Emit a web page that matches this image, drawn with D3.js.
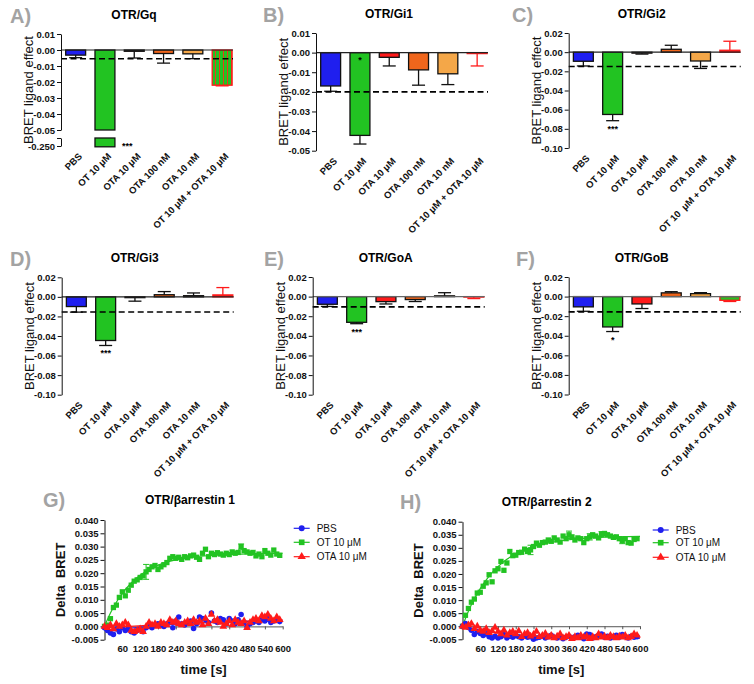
<!DOCTYPE html>
<html><head><meta charset="utf-8">
<script src="https://cdn.jsdelivr.net/npm/d3@7"></script>
<style>body{margin:0;background:#fff}svg{display:block}text{font-family:Arial,"Liberation Sans",sans-serif}</style>
</head><body><svg id="c" width="754" height="684"></svg>
<script>
// ---------------- DATA ----------------
const categories = ["PBS","OT 10 \u03bcM","OTA 10 \u03bcM","OTA 100 nM","OTA 10 nM","OT 10 \u03bcM + OTA 10 \u03bcM"];

const gqMean  = [-0.0032,-0.2505,-0.0008,-0.0022,-0.0024,-0.0220];
const gqSem   = [ 0.0016, 0,      0.0042, 0.0060, 0.0030, 0.0004];
const gqDash  = -0.0055;
const gqSig   = ["","***","","","",""];

const gi1Mean = [-0.0170,-0.0422,-0.0024,-0.0088,-0.0108,-0.0005];
const gi1Sem  = [ 0.0027, 0.0044, 0.0044, 0.0078, 0.0055, 0.0063];
const gi1Dash = -0.0200;
const gi1Sig  = ["","*","","","",""];

const gi2Mean = [-0.0095,-0.0650,-0.0010, 0.0030,-0.0092, 0.0020];
const gi2Sem  = [ 0.0049, 0.0065, 0.0010, 0.0042, 0.0078, 0.0094];
const gi2Dash = -0.0150;
const gi2Sig  = ["","***","","","",""];

const gi3Mean = [-0.0099,-0.0446,-0.0008, 0.0022, 0.0012, 0.0020];
const gi3Sem  = [ 0.0057, 0.0051, 0.0036, 0.0032, 0.0028, 0.0075];
const gi3Dash = -0.0155;
const gi3Sig  = ["","***","","","",""];

const goAMean = [-0.0078,-0.0262,-0.0051,-0.0030, 0.0008,-0.0005];
const goASem  = [ 0.0022, 0.0014, 0.0024, 0.0020, 0.0032, 0.0015];
const goADash = -0.0105;
const goASig  = ["","***","","","",""];

const goBMean = [-0.0105,-0.0310,-0.0075, 0.0038, 0.0030,-0.0038];
const goBSem  = [ 0.0045, 0.0047, 0.0047, 0.0012, 0.0010, 0.0012];
const goBDash = -0.0156;
const goBSig  = ["","*","","","",""];

const ticksGq  = [0.01,0,-0.01,-0.02,-0.03,-0.04,-0.05];
const ticksGi1 = [0.01,0,-0.01,-0.02,-0.03,-0.04,-0.05];
const ticksWide = [0.02,0,-0.02,-0.04,-0.06,-0.08,-0.10];

const timeS = [0,10,20,30,40,50,60,70,80,90,100,110,120,130,140,150,160,170,180,190,
  200,210,220,230,240,250,260,270,280,290,300,310,320,330,340,350,360,370,380,390,
  400,410,420,430,440,450,460,470,480,490,500,510,520,530,540,550,560,570,580,590];
const timeXTicks = [60,120,180,240,300,360,420,480,540,600];
const timeYTicks = [-0.005,0,0.005,0.010,0.015,0.020,0.025,0.030,0.035,0.040];
const seriesNames = ["PBS","OT 10 \u03bcM","OTA 10 \u03bcM"];

// G: beta-arrestin 1
const g1PBS = [-0.0005,-0.0015,-0.0025,-0.0030,-0.0010,-0.0020,-0.0005,-0.0015,-0.0010,-0.0020,
  -0.0025,-0.0015,-0.0010,-0.0020,-0.0005,0.0000,-0.0005,0.0005,0.0010,0.0005,
  0.0000,0.0010,0.0015,-0.0005,0.0020,0.0035,0.0010,0.0005,0.0015,0.0020,
  -0.0008,0.0010,0.0035,0.0030,0.0025,0.0015,0.0050,0.0020,0.0015,0.0030,
  0.0025,0.0010,0.0030,0.0020,0.0010,0.0025,0.0045,0.0015,0.0000,0.0010,
  0.0015,0.0020,0.0015,0.0025,0.0020,0.0030,0.0015,0.0020,0.0025,0.0018];
const g1OT = [0.0000,0.0005,0.0029,0.0071,0.0080,0.0109,0.0130,0.0115,0.0136,0.0155,
  0.0170,0.0175,0.0184,0.0190,0.0205,0.0214,0.0224,0.0229,0.0214,0.0224,
  0.0232,0.0240,0.0256,0.0262,0.0256,0.0260,0.0252,0.0262,0.0258,0.0265,
  0.0268,0.0260,0.0252,0.0275,0.0290,0.0262,0.0275,0.0270,0.0277,0.0272,
  0.0268,0.0275,0.0270,0.0280,0.0275,0.0278,0.0300,0.0285,0.0280,0.0275,
  0.0278,0.0265,0.0272,0.0262,0.0285,0.0275,0.0268,0.0287,0.0272,0.0267];
const g1OTA = [0.0000,-0.0005,0.0005,-0.0010,0.0010,0.0000,0.0005,0.0015,0.0005,-0.0015,
  -0.0020,-0.0015,-0.0010,-0.0020,0.0000,0.0015,0.0005,0.0010,0.0000,0.0015,
  0.0010,0.0005,0.0025,0.0015,0.0020,0.0010,0.0005,0.0015,0.0020,0.0010,
  0.0025,0.0015,0.0020,0.0005,0.0030,0.0010,0.0045,0.0020,0.0025,0.0015,
  0.0000,0.0010,0.0020,0.0005,0.0025,0.0015,0.0010,0.0020,-0.0005,0.0015,
  0.0025,0.0030,0.0020,0.0040,0.0035,0.0045,0.0030,0.0020,0.0035,0.0025];
const g1FitPBS = [[0,-0.0015],[100,-0.0005],[200,0.0005],[300,0.0012],[400,0.0017],[500,0.0019],[600,0.0020]];
const g1FitOT  = [[0,0],[20,0.0050],[40,0.0091],[60,0.0124],[90,0.0163],[120,0.0192],[150,0.0214],[180,0.0230],[240,0.0250],[300,0.0261],[360,0.0267],[420,0.0271],[480,0.0273],[540,0.0274],[600,0.0275]];
const g1FitOTA = [[0,-0.0005],[100,0.0001],[200,0.0008],[300,0.0013],[400,0.0017],[500,0.0021],[600,0.0025]];
const g1ErrT = [140,460];
const g1ErrV = [0.0028,0.0010];

// H: beta-arrestin 2
const h2PBS = [0.0000,0.0010,-0.0005,-0.0015,-0.0032,-0.0020,-0.0028,-0.0035,-0.0030,-0.0040,
  -0.0045,-0.0038,-0.0045,-0.0040,-0.0032,-0.0045,-0.0038,-0.0042,-0.0035,-0.0040,
  -0.0045,-0.0038,-0.0042,-0.0040,-0.0050,-0.0045,-0.0042,-0.0038,-0.0045,-0.0040,
  -0.0035,-0.0042,-0.0045,-0.0040,-0.0048,-0.0042,-0.0038,-0.0045,-0.0040,-0.0035,
  -0.0042,-0.0048,-0.0030,-0.0032,-0.0045,-0.0040,-0.0035,-0.0030,-0.0042,-0.0038,
  -0.0045,-0.0040,-0.0035,-0.0042,-0.0032,-0.0040,-0.0045,-0.0038,-0.0042,-0.0040];
const h2OT = [0.0000,0.0042,0.0068,0.0092,0.0104,0.0127,0.0130,0.0153,0.0166,0.0197,
  0.0170,0.0212,0.0220,0.0248,0.0214,0.0242,0.0286,0.0270,0.0272,0.0282,
  0.0283,0.0295,0.0286,0.0292,0.0305,0.0318,0.0310,0.0320,0.0322,0.0330,
  0.0325,0.0338,0.0330,0.0322,0.0345,0.0335,0.0350,0.0342,0.0330,0.0338,
  0.0335,0.0320,0.0335,0.0342,0.0350,0.0345,0.0338,0.0352,0.0355,0.0350,
  0.0345,0.0340,0.0342,0.0335,0.0328,0.0335,0.0320,0.0318,0.0332,0.0335];
const h2OTA = [0.0000,-0.0005,0.0005,0.0010,-0.0010,0.0000,-0.0015,-0.0020,-0.0010,-0.0025,
  -0.0018,-0.0005,-0.0020,-0.0030,-0.0015,-0.0035,-0.0025,-0.0020,-0.0030,-0.0018,
  -0.0040,-0.0030,-0.0025,-0.0038,-0.0032,-0.0020,-0.0040,-0.0035,-0.0028,-0.0042,
  -0.0035,-0.0045,-0.0038,-0.0030,-0.0045,-0.0040,-0.0035,-0.0048,-0.0040,-0.0045,
  -0.0035,-0.0042,-0.0038,-0.0048,-0.0040,-0.0045,-0.0030,-0.0042,-0.0038,-0.0045,
  -0.0035,-0.0040,-0.0045,-0.0038,-0.0042,-0.0035,-0.0045,-0.0040,-0.0030,-0.0035];
const h2FitPBS = [[0,0],[30,-0.0018],[60,-0.0030],[90,-0.0037],[120,-0.0041],[180,-0.0044],[240,-0.0045],[600,-0.0045]];
const h2FitOT  = [[0,0],[20,0.0057],[40,0.0105],[60,0.0144],[90,0.0192],[120,0.0228],[150,0.0256],[180,0.0277],[240,0.0305],[300,0.0321],[360,0.0331],[420,0.0337],[480,0.0341],[600,0.0344]];
const h2FitOTA = [[0,0],[60,-0.0015],[120,-0.0026],[180,-0.0033],[240,-0.0038],[300,-0.0041],[400,-0.0044],[500,-0.0045],[600,-0.0046]];
const h2ErrT = [230,360,430,470,540];
const h2ErrV = [0.0018,0.0014,0.0012,0.0010,0.0012];

// ---------------- DRAWING ----------------
const svg = d3.select("#c");
const COL = {blue:"#1f1fef", green:"#22c322", red:"#ff1a1a", dko:"#f0661c", lto:"#f4a748", letter:"#a3a3a3"};
const barFills = [COL.blue, COL.green, COL.red, COL.dko, COL.lto];
const fmt = f => d => d3.format(f)(d).replace("\u2212","-");

const defs = svg.append("defs");
const pat = defs.append("pattern").attr("id","stripe").attr("patternUnits","userSpaceOnUse").attr("width",4).attr("height",4);
pat.append("rect").attr("width",4).attr("height",4).attr("fill",COL.green);
pat.append("rect").attr("x",3).attr("width",1).attr("height",4).attr("fill","#e83a1e");

function styleAxis(ga){
  ga.attr("font-size","9.5px").attr("font-weight","bold").attr("font-family",null);
  ga.selectAll("path,line").attr("stroke","#111");
  ga.selectAll("text").attr("fill","#111");
}

function barPanel(p){
  const g = svg.append("g");
  const step = 29.3;
  const x = d3.scaleBand().domain(categories).range([p.ax, p.ax + 6*step]).paddingInner(0.32).paddingOuter(0.16);
  const y = d3.scaleLinear().domain(p.domain).range([p.yb, p.yt]);
  const yLow = p.broken ? d3.scaleLinear().domain(p.broken.domain).range(p.broken.range) : null;
  const axBottom = p.broken ? p.broken.range[0] : p.yb;
  const xEnd = p.ax + 172;
  const bw = x.bandwidth();

  p.mean.forEach((v,i)=>{
    const bx = x(categories[i]), cx = bx + bw/2;
    const fill = i<5 ? barFills[i] : p.lastFill;
    const stroke = i<5 ? "#111" : COL.red;
    if (yLow && v < p.domain[0]) {
      g.append("rect").attr("x",bx).attr("y",y(0)).attr("width",bw).attr("height",y(p.domain[0])-y(0))
        .attr("fill",fill).attr("stroke",stroke).attr("stroke-width",1.3);
      const top = yLow(p.broken.domain[1]);
      g.append("rect").attr("x",bx).attr("y",top).attr("width",bw).attr("height",yLow(v)-top)
        .attr("fill",fill).attr("stroke",stroke).attr("stroke-width",1.3);
      if (p.sig[i]) g.append("text").attr("x",bx+bw+7).attr("y",yLow(v)+2).attr("font-size","9px").attr("font-weight","bold").text(p.sig[i]);
      return;
    }
    const y0 = y(0), y1 = y(v);
    g.append("rect").attr("x",bx).attr("y",Math.min(y0,y1)).attr("width",bw).attr("height",Math.abs(y1-y0))
      .attr("fill",fill).attr("stroke",stroke).attr("stroke-width",1.3);
    const s = p.sem[i];
    const ye = y(v + (v<0 ? -s : s));
    if (s>0){
      g.append("line").attr("x1",cx).attr("x2",cx).attr("y1",y1).attr("y2",ye).attr("stroke",stroke).attr("stroke-width",1.3);
      g.append("line").attr("x1",cx-6.5).attr("x2",cx+6.5).attr("y1",ye).attr("y2",ye).attr("stroke",stroke).attr("stroke-width",1.3);
    }
    if (p.sig[i]) {
      const ty = p.sigInside ? y0 + 10 : ye + 11;
      g.append("text").attr("x",cx).attr("y",ty).attr("text-anchor","middle").attr("font-size","9px").attr("font-weight","bold").text(p.sig[i]);
    }
  });

  g.append("line").attr("x1",p.ax).attr("x2",xEnd).attr("y1",y(0)).attr("y2",y(0)).attr("stroke",p.zeroColor||"#222").attr("stroke-width",1.1);
  g.append("line").attr("x1",p.ax).attr("x2",xEnd).attr("y1",y(p.dash)).attr("y2",y(p.dash))
    .attr("stroke","#000").attr("stroke-width",1.6).attr("stroke-dasharray","6,3.5");

  const ga = g.append("g").attr("transform",`translate(${p.ax},0)`)
    .call(d3.axisLeft(y).tickValues(p.ticks).tickSize(4).tickSizeOuter(0).tickPadding(2).tickFormat(fmt(".2f")));
  styleAxis(ga);
  if (yLow){
    const gb = g.append("g").attr("transform",`translate(${p.ax},0)`)
      .call(d3.axisLeft(yLow).tickValues(p.broken.domain).tickSize(4).tickSizeOuter(0).tickPadding(2)
        .tickFormat(d => d===p.broken.domain[0] ? p.broken.label : ""));
    styleAxis(gb);
  }

  const labs = p.labels || categories;
  categories.forEach((c,i)=>{
    g.append("text").attr("transform",`translate(${x(c)+bw/2+7},${axBottom+11}) rotate(-45)`)
      .attr("text-anchor","end").attr("font-size","9.5px").attr("font-weight","bold").attr("fill","#111").style("white-space","pre").text(labs[i]);
  });

  g.append("text").attr("x",p.ax+73).attr("y",p.yt-15).attr("text-anchor","middle").attr("font-size","12px").attr("font-weight","bold").text(p.title);
  g.append("text").attr("x",p.lx).attr("y",p.yt-11).attr("font-size","20px").attr("font-weight","bold").attr("fill",COL.letter).text(p.letter);
  g.append("text").attr("transform",`translate(${p.ax-28},${(p.yt+axBottom)/2}) rotate(-90)`).attr("text-anchor","middle")
    .attr("font-size","13px").attr("fill","#111").text("BRET ligand effect");
}

barPanel({letter:"A)",title:"OTR/Gq",lx:10,ax:61,yt:34,yb:130,domain:[-0.05,0.01],ticks:ticksGq,
  broken:{domain:[-0.25,-0.245],range:[146,138],label:"-0.250"},
  mean:gqMean,sem:gqSem,dash:gqDash,sig:gqSig,lastFill:"url(#stripe)"});
barPanel({letter:"B)",title:"OTR/Gi1",lx:263,ax:316,yt:33,yb:150.7,domain:[-0.05,0.01],ticks:ticksGi1,
  mean:gi1Mean,sem:gi1Sem,dash:gi1Dash,sig:gi1Sig,sigInside:true,lastFill:"#fff"});
barPanel({letter:"C)",title:"OTR/Gi2",lx:512,ax:568.7,yt:33,yb:148,domain:[-0.10,0.02],ticks:ticksWide,
  labels:["PBS","OT 10 \u03bcM","OTA 10 \u03bcM","OTA 100 nM","OTA 10 nM","OT 10  \u03bcM + OTA 10 \u03bcM"],
  mean:gi2Mean,sem:gi2Sem,dash:gi2Dash,sig:gi2Sig,lastFill:COL.red});
barPanel({letter:"D)",title:"OTR/Gi3",lx:10,ax:61.7,yt:277.3,yb:394.7,domain:[-0.10,0.02],ticks:ticksWide,
  mean:gi3Mean,sem:gi3Sem,dash:gi3Dash,sig:gi3Sig,lastFill:COL.red});
barPanel({letter:"E)",title:"OTR/GoA",lx:264,ax:312.7,yt:277,yb:394.7,domain:[-0.10,0.02],ticks:ticksWide,
  mean:goAMean,sem:goASem,dash:goADash,sig:goASig,lastFill:"#c83838",zeroColor:"#666"});
barPanel({letter:"F)",title:"OTR/GoB",lx:516,ax:568.7,yt:277,yb:394.5,domain:[-0.10,0.02],ticks:ticksWide,
  mean:goBMean,sem:goBSem,dash:goBDash,sig:goBSig,lastFill:COL.green,zeroColor:"#666"});

function timePanel(p){
  const g = svg.append("g");
  const x = d3.scaleLinear().domain([0,600]).range([p.ax,p.axEnd]);
  const y = d3.scaleLinear().domain([-0.005,0.040]).range([p.yb,p.yt]);
  const ga = g.append("g").attr("transform",`translate(${p.ax},0)`)
    .call(d3.axisLeft(y).tickValues(timeYTicks).tickSize(4).tickSizeOuter(0).tickPadding(2).tickFormat(fmt(".3f")));
  styleAxis(ga);
  const gx = g.append("g").attr("transform",`translate(0,${y(0)})`)
    .call(d3.axisBottom(x).tickValues(timeXTicks).tickSize(3).tickSizeOuter(0).tickPadding(p.yb-y(0)+3));
  styleAxis(gx);
  gx.selectAll("path,line").attr("stroke","#555");

  const shapes = [d3.symbolCircle, d3.symbolSquare, d3.symbolTriangle];
  const sizes = [24, 28, 26];
  const colors = [COL.blue, COL.green, COL.red];
  const line = d3.line().x(d=>x(d[0])).y(d=>y(d[1])).curve(d3.curveMonotoneX);
  const order = [1,0,2];
  order.forEach(k=>{
    g.append("path").attr("d",line(p.fits[k])).attr("fill","none").attr("stroke",colors[k]).attr("stroke-width",1.2);
  });
  p.errT.forEach((t,j)=>{
    const v = p.vals[1][timeS.indexOf(t)], e = p.errV[j], cx = x(t);
    g.append("line").attr("x1",cx).attr("x2",cx).attr("y1",y(v-e)).attr("y2",y(v+e)).attr("stroke",COL.green).attr("stroke-width",1);
    [v-e,v+e].forEach(w=>g.append("line").attr("x1",cx-3).attr("x2",cx+3).attr("y1",y(w)).attr("y2",y(w)).attr("stroke",COL.green).attr("stroke-width",1));
  });
  order.forEach(k=>{
    g.append("g").selectAll("path").data(p.vals[k]).join("path")
      .attr("transform",(d,i)=>`translate(${x(timeS[i])},${y(d)})`)
      .attr("d",d3.symbol().type(shapes[k]).size(sizes[k])).attr("fill",colors[k]);
  });
  seriesNames.forEach((n,k)=>{
    const ly = p.legY[k];
    g.append("line").attr("x1",p.legX-8).attr("x2",p.legX+8).attr("y1",ly).attr("y2",ly).attr("stroke",colors[k]).attr("stroke-width",1.2);
    g.append("path").attr("transform",`translate(${p.legX},${ly})`).attr("d",d3.symbol().type(shapes[k]).size(sizes[k]+4)()).attr("fill",colors[k]);
    g.append("text").attr("x",p.legX+15).attr("y",ly+3.6).attr("font-size","10px").attr("fill","#111").text(n);
  });
  g.append("text").attr("x",p.tx).attr("y",p.yt-16).attr("text-anchor","middle").attr("font-size","12px").attr("font-weight","bold").text(p.title);
  g.append("text").attr("x",p.lx).attr("y",p.yt-13).attr("font-size","20px").attr("font-weight","bold").attr("fill",COL.letter).text(p.letter);
  g.append("text").attr("transform",`translate(${p.ax-40},${(p.yt+p.yb)/2}) rotate(-90)`).attr("text-anchor","middle")
    .attr("font-size","13px").attr("font-weight","bold").style("white-space","pre").attr("fill","#111").text("Delta  BRET");
  g.append("text").attr("x",(p.ax+p.axEnd)/2+10).attr("y",674).attr("text-anchor","middle").attr("font-size","13px").attr("font-weight","bold").attr("fill","#111").text("time [s]");
}

timePanel({letter:"G)",title:"OTR/\u03b2arrestin 1",lx:43,tx:190,ax:104.5,axEnd:282.7,yt:520,yb:639.7,
  vals:[g1PBS,g1OT,g1OTA],fits:[g1FitPBS,g1FitOT,g1FitOTA],errT:g1ErrT,errV:g1ErrV,legX:301.7,legY:[528.3,542.3,556.7]});
timePanel({letter:"H)",title:"OTR/\u03b2arrestin 2",lx:400,tx:546.7,ax:462.5,axEnd:640,yt:521.7,yb:639.3,
  vals:[h2PBS,h2OT,h2OTA],fits:[h2FitPBS,h2FitOT,h2FitOTA],errT:h2ErrT,errV:h2ErrV,legX:660.7,legY:[530,542.7,557.3]});
</script></body></html>
